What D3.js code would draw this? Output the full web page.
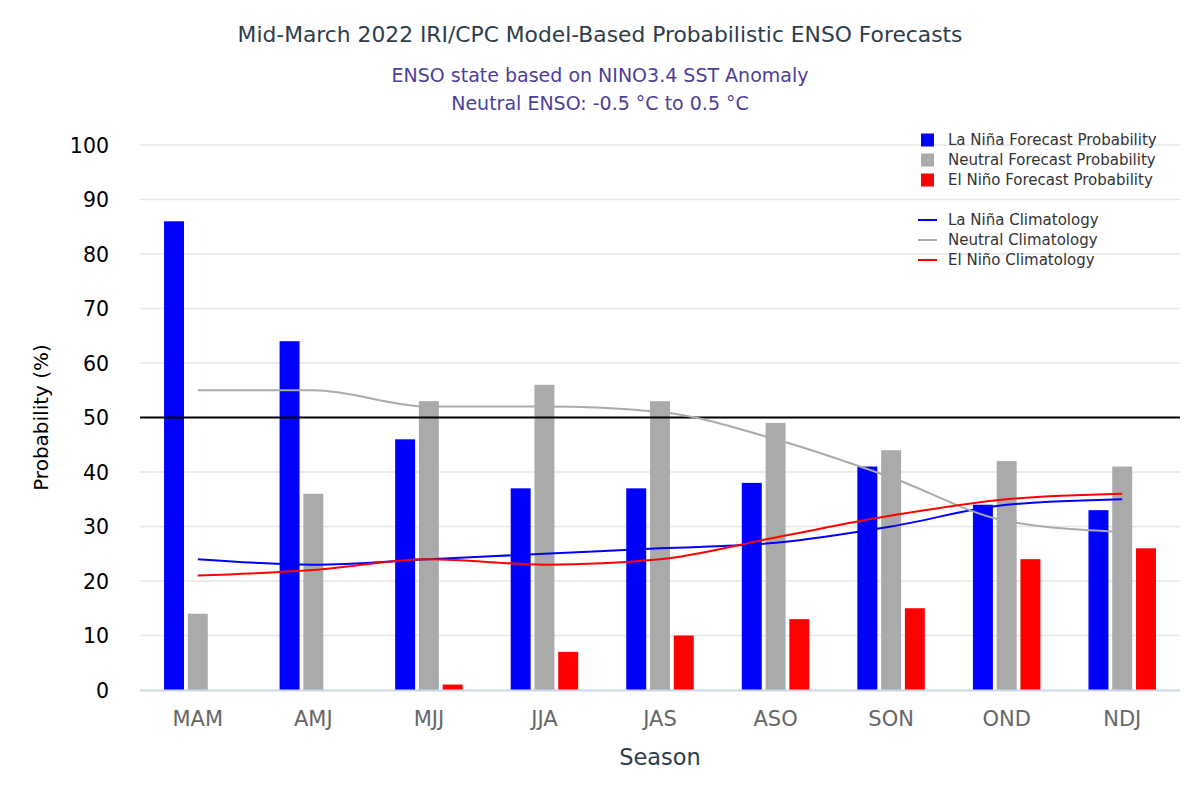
<!DOCTYPE html>
<html>
<head>
<meta charset="utf-8">
<script src="https://cdn.jsdelivr.net/npm/d3@7"></script>
<style>
  body { margin: 0; background: #fff; }
  svg { display: block; font-family: "DejaVu Sans", Verdana, sans-serif; }
</style>
</head>
<body>
<svg id="chart" width="1200" height="800"></svg>
<script>
// ---- Data ----
const seasons = ["MAM", "AMJ", "MJJ", "JJA", "JAS", "ASO", "SON", "OND", "NDJ"];
const laNinaForecast  = [86, 64, 46, 37, 37, 38, 41, 34, 33];
const neutralForecast = [14, 36, 53, 56, 53, 49, 44, 42, 41];
const elNinoForecast  = [0, 0, 1, 7, 10, 13, 15, 24, 26];
const laNinaClim  = [24, 23, 24, 25, 26, 27, 30, 34, 35];
const neutralClim = [55, 55, 52, 52, 51, 46, 39, 31, 29];
const elNinoClim  = [21, 22, 24, 23, 24, 28, 32, 35, 36];
const yTicks = [0, 10, 20, 30, 40, 50, 60, 70, 80, 90, 100];

const barSeries = [
  { name: "La Niña Forecast Probability", values: laNinaForecast, color: "#0000ff" },
  { name: "Neutral Forecast Probability", values: neutralForecast, color: "#aaaaaa" },
  { name: "El Niño Forecast Probability", values: elNinoForecast, color: "#ff0000" }
];
const lineSeries = [
  { name: "La Niña Climatology", values: laNinaClim, color: "#0000ff" },
  { name: "Neutral Climatology", values: neutralClim, color: "#aaaaaa" },
  { name: "El Niño Climatology", values: elNinoClim, color: "#ff0000" }
];

// ---- Layout ----
const svg = d3.select("#chart");
const pLeft = 140, pRight = 1180, pTop = 145, pBottom = 690;

const x0 = d3.scaleBand().domain(seasons).range([pLeft, pRight]).padding(0);
const bw = x0.bandwidth();
const x1 = d3.scaleBand().domain(barSeries.map(d => d.name))
  .range([bw * 0.208, bw * 0.792]).paddingInner(0.16);
const y = d3.scaleLinear().domain([0, 100]).range([pBottom, pTop]);

// gridlines
svg.append("g").selectAll("line").data(yTicks.filter(t => t !== 0)).join("line")
  .attr("x1", pLeft).attr("x2", pRight)
  .attr("y1", d => y(d)).attr("y2", d => y(d))
  .attr("stroke", "#e6e6e6").attr("stroke-width", 1.5);

// y axis labels
const yAxis = d3.axisLeft(y).tickValues(yTicks).tickSize(0).tickPadding(0);
const yg = svg.append("g").attr("transform", `translate(${pLeft - 31},0)`).call(yAxis);
yg.select(".domain").remove();
yg.selectAll("text").attr("font-size", 20.5).attr("fill", "#000")
  .attr("font-family", "DejaVu Sans, sans-serif").attr("dy", "0.35em");

// bars
const groups = svg.append("g").selectAll("g").data(seasons).join("g")
  .attr("transform", d => `translate(${x0(d)},0)`);
groups.selectAll("rect")
  .data((s, i) => barSeries.map(b => ({ name: b.name, v: b.values[i], color: b.color })))
  .join("rect")
  .attr("x", d => x1(d.name))
  .attr("width", x1.bandwidth())
  .attr("y", d => y(d.v))
  .attr("height", d => y(0) - y(d.v))
  .attr("fill", d => d.color);

// 50% plot line
svg.append("line").attr("x1", pLeft).attr("x2", pRight)
  .attr("y1", y(50)).attr("y2", y(50))
  .attr("stroke", "#000").attr("stroke-width", 2);

// climatology lines
const line = d3.line()
  .x((d, i) => x0(seasons[i]) + bw / 2)
  .y(d => y(d))
  .curve(d3.curveMonotoneX);
svg.append("g").selectAll("path").data(lineSeries).join("path")
  .attr("d", d => line(d.values))
  .attr("fill", "none").attr("stroke", d => d.color).attr("stroke-width", 2);

// x axis
const xAxis = d3.axisBottom(x0).tickSize(0).tickPadding(0);
const xg = svg.append("g").attr("transform", `translate(0,${pBottom})`).call(xAxis);
xg.select(".domain").attr("stroke", "#ccd6eb").attr("stroke-width", 2)
  .attr("d", `M${pLeft},0.5H${pRight}`);
xg.selectAll("text").attr("font-size", 21).attr("fill", "#666666")
  .attr("font-family", "DejaVu Sans, sans-serif").attr("dy", "0").attr("y", 36);

// titles
svg.append("text").attr("x", 600).attr("y", 42).attr("text-anchor", "middle")
  .attr("font-size", 21.8).attr("fill", "#2e3d49")
  .text("Mid-March 2022 IRI/CPC Model-Based Probabilistic ENSO Forecasts");
svg.append("text").attr("x", 600).attr("y", 82).attr("text-anchor", "middle")
  .attr("font-size", 19).attr("fill", "#4b3f9a")
  .text("ENSO state based on NINO3.4 SST Anomaly");
svg.append("text").attr("x", 600).attr("y", 110).attr("text-anchor", "middle")
  .attr("font-size", 19).attr("fill", "#4b3f9a")
  .text("Neutral ENSO: -0.5 °C to 0.5 °C");

svg.append("text").attr("transform", `translate(48,${(pTop + pBottom) / 2}) rotate(-90)`)
  .attr("text-anchor", "middle").attr("font-size", 20).attr("fill", "#000")
  .text("Probability (%)");
svg.append("text").attr("x", (pLeft + pRight) / 2).attr("y", 765)
  .attr("text-anchor", "middle").attr("font-size", 22.5).attr("fill", "#2e3d49")
  .text("Season");

// legends
const lg1 = svg.append("g").selectAll("g").data(barSeries).join("g")
  .attr("transform", (d, i) => `translate(921,${140 + i * 20})`);
lg1.append("rect").attr("x", 0).attr("y", -6.5).attr("width", 13).attr("height", 13)
  .attr("fill", d => d.color);
lg1.append("text").attr("x", 27).attr("dy", "0.35em").attr("font-size", 15)
  .attr("fill", "#333").text(d => d.name);

const lg2 = svg.append("g").selectAll("g").data(lineSeries).join("g")
  .attr("transform", (d, i) => `translate(918,${220 + i * 20})`);
lg2.append("line").attr("x1", 0).attr("x2", 19).attr("y1", 0).attr("y2", 0)
  .attr("stroke", d => d.color).attr("stroke-width", 2);
lg2.append("text").attr("x", 30).attr("dy", "0.35em").attr("font-size", 15)
  .attr("fill", "#333").text(d => d.name);
</script>
</body>
</html>
